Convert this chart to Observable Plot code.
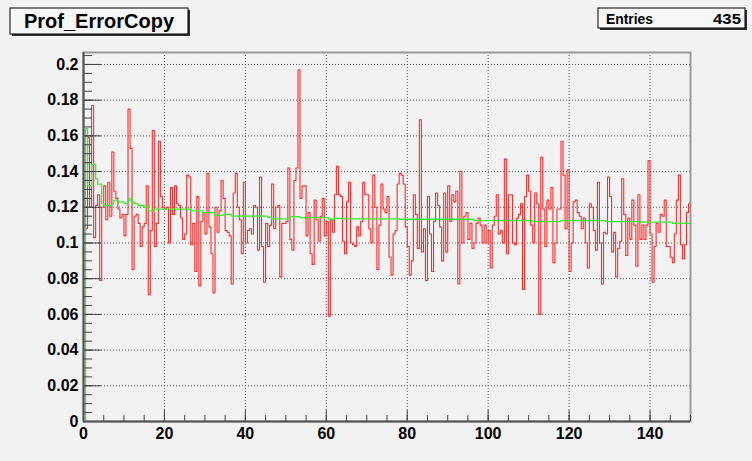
<!DOCTYPE html>
<html><head><meta charset="utf-8">
<script src="https://cdn.jsdelivr.net/npm/d3@7"></script>
<script src="https://cdn.jsdelivr.net/npm/@observablehq/plot@0.6"></script>
<style>
html,body{margin:0;padding:0;background:#f2f2f2;}
#wrap{position:relative;width:752px;height:461px;overflow:hidden;}
#chart svg{display:block;}
#overlay{position:absolute;left:0;top:0;}
</style></head><body>
<div id="wrap"><div id="chart"></div>
<svg id="overlay" width="752" height="461" font-family="'Liberation Sans', Arial, sans-serif">
  <rect x="12" y="10" width="178" height="26" fill="#333"/>
  <rect x="10" y="8" width="178" height="26" fill="#f7f7f7" stroke="#000" stroke-width="1"/>
  <text x="99" y="28" font-size="21" font-weight="bold" text-anchor="middle" textLength="150" lengthAdjust="spacingAndGlyphs">Prof_ErrorCopy</text>
  <rect x="600" y="10" width="147" height="20" fill="#333"/>
  <rect x="598" y="8" width="147" height="20" fill="#f7f7f7" stroke="#000" stroke-width="1"/>
  <text x="606" y="23.5" font-size="14" font-weight="bold" textLength="47" lengthAdjust="spacingAndGlyphs">Entries</text>
  <text x="741" y="23.5" font-size="14" font-weight="bold" text-anchor="end" textLength="28" lengthAdjust="spacingAndGlyphs">435</text>
</svg>
</div>
<script>
// Histogram: 300 bins of width 0.5 over [0,150]
const binWidth = 0.5;
const xRange = [0, 150];
const yRange = [0, 0.2067];
const redValues = [
0.125,0.108,0.159,0.120,0.177,0.103,0.121,0.127,0.079,0.120,
0.132,0.113,0.134,0.115,0.151,0.129,0.125,0.119,0.114,0.116,
0.104,0.116,0.175,0.153,0.085,0.115,0.116,0.111,0.098,0.109,
0.111,0.132,0.071,0.107,0.163,0.098,0.111,0.157,0.126,0.120,
0.119,0.120,0.100,0.131,0.116,0.132,0.122,0.121,0.114,0.102,
0.105,0.138,0.137,0.099,0.111,0.084,0.126,0.076,0.112,0.117,
0.105,0.139,0.109,0.094,0.072,0.120,0.106,0.118,0.135,0.125,
0.107,0.106,0.104,0.077,0.128,0.139,0.120,0.113,0.094,0.134,
0.100,0.107,0.108,0.105,0.121,0.120,0.096,0.137,0.098,0.078,
0.111,0.098,0.110,0.133,0.108,0.120,0.121,0.081,0.111,0.111,
0.112,0.142,0.102,0.096,0.135,0.142,0.197,0.125,0.132,0.132,
0.104,0.117,0.094,0.088,0.124,0.113,0.101,0.115,0.125,0.104,
0.112,0.059,0.113,0.106,0.127,0.143,0.127,0.126,0.101,0.094,
0.123,0.134,0.100,0.099,0.098,0.109,0.104,0.112,0.134,0.127,
0.127,0.108,0.100,0.138,0.120,0.085,0.110,0.133,0.119,0.117,
0.126,0.092,0.082,0.105,0.107,0.133,0.139,0.138,0.133,0.109,
0.098,0.082,0.090,0.127,0.116,0.097,0.169,0.095,0.108,0.079,
0.126,0.105,0.084,0.112,0.128,0.121,0.109,0.090,0.128,0.095,
0.132,0.112,0.127,0.123,0.129,0.077,0.140,0.100,0.115,0.117,
0.102,0.111,0.097,0.100,0.111,0.114,0.110,0.100,0.110,0.100,
0.107,0.086,0.110,0.115,0.127,0.105,0.107,0.100,0.147,0.094,
0.127,0.127,0.100,0.099,0.114,0.116,0.122,0.074,0.126,0.138,
0.129,0.110,0.100,0.128,0.122,0.060,0.148,0.119,0.098,0.124,
0.119,0.131,0.089,0.100,0.119,0.119,0.157,0.138,0.108,0.141,
0.084,0.100,0.123,0.124,0.117,0.115,0.108,0.114,0.100,0.086,
0.122,0.120,0.107,0.096,0.134,0.100,0.077,0.106,0.105,0.137,
0.126,0.095,0.106,0.081,0.097,0.101,0.136,0.116,0.093,0.114,
0.102,0.124,0.110,0.087,0.127,0.102,0.110,0.102,0.110,0.146,
0.105,0.078,0.098,0.111,0.106,0.116,0.115,0.124,0.098,0.098,
0.092,0.089,0.105,0.124,0.138,0.099,0.091,0.099,0.117,0.122
];
// Green running profile: step change points (x) and levels
const greenX = [0,0.5,1,2,3,3.5,4.5,5,7,7.5,8.5,10,11,11.5,12,12.5,13.5,15,16,17.5,26.5,29.5,32.5,34.5,36.5,45.5,46.5,51,53.5,60.5,62,64,78,96.5,111,118,129,138,145.5];
const greenY = [0,0.164,0.132,0.144,0.136,0.133,0.122,0.121,0.122,0.124,0.123,0.122,0.124,0.125,0.123,0.122,0.121,0.120,0.118,0.119,0.118,0.117,0.1155,0.116,0.115,0.1144,0.1135,0.1148,0.1142,0.1133,0.1138,0.1135,0.1133,0.1125,0.112,0.1125,0.112,0.1117,0.111];
// Axis ticks
const xMajor = [0,20,40,60,80,100,120,140];
const xMinor = d3.range(0, 150.01, 5);
const yMajor = [0,0.02,0.04,0.06,0.08,0.1,0.12,0.14,0.16,0.18,0.2];
const yMinor = d3.range(0, 0.2067, 0.005);

const red = redValues.map((v, i) => ({x: i * binWidth, y: v}));
red.push({x: xRange[1], y: redValues[redValues.length - 1]});
const green = greenX.map((x, i) => ({x, y: greenY[i]}));
green.push({x: xRange[1], y: greenY[greenY.length - 1]});

const fmt = d => String(+d.toFixed(3));
const plot = Plot.plot({
  width: 752, height: 461,
  marginLeft: 83, marginRight: 62, marginTop: 52, marginBottom: 40,
  style: {background: "#f2f2f2", fontFamily: "'Liberation Sans', Arial, sans-serif", overflow: "visible"},
  x: {domain: xRange},
  y: {domain: yRange},
  marks: [
    Plot.gridY(yMajor, {stroke: "#555", strokeOpacity: 1, strokeDasharray: "1,2"}),
    Plot.gridX(xMajor, {stroke: "#555", strokeOpacity: 1, strokeDasharray: "1,2"}),
    Plot.lineY(red, {x: "x", y: "y", curve: "step-after", stroke: "#ff2b2b", strokeWidth: 1.1}),
    Plot.lineY(green, {x: "x", y: "y", curve: "step-after", stroke: "#33f033", strokeWidth: 1.3}),
    Plot.frame({stroke: "#999", strokeWidth: 2}),
    Plot.axisY(yMinor, {tickSize: -9, fill: "none", stroke: "#444", label: null}),
    Plot.axisY(yMajor, {tickSize: -18, fill: "none", stroke: "#444", label: null}),
    Plot.axisY(yMajor, {tickSize: 0, tickPadding: 5, tickFormat: fmt, fontSize: 16, fontWeight: "bold", fill: "#000", label: null}),
    Plot.axisX(xMinor, {tickSize: -6, fill: "none", stroke: "#444", label: null}),
    Plot.axisX(xMajor, {tickSize: -11, fill: "none", stroke: "#444", label: null}),
    Plot.axisX(xMajor, {tickSize: 0, tickPadding: 6, tickFormat: fmt, fontSize: 16, fontWeight: "bold", fill: "#000", label: null}),
    Plot.ruleX([xRange[0]], {stroke: "#555", strokeWidth: 2}),
    Plot.ruleY([yRange[0]], {stroke: "#555", strokeWidth: 2})
  ]
});
document.getElementById("chart").appendChild(plot);
</script>
</body></html>
